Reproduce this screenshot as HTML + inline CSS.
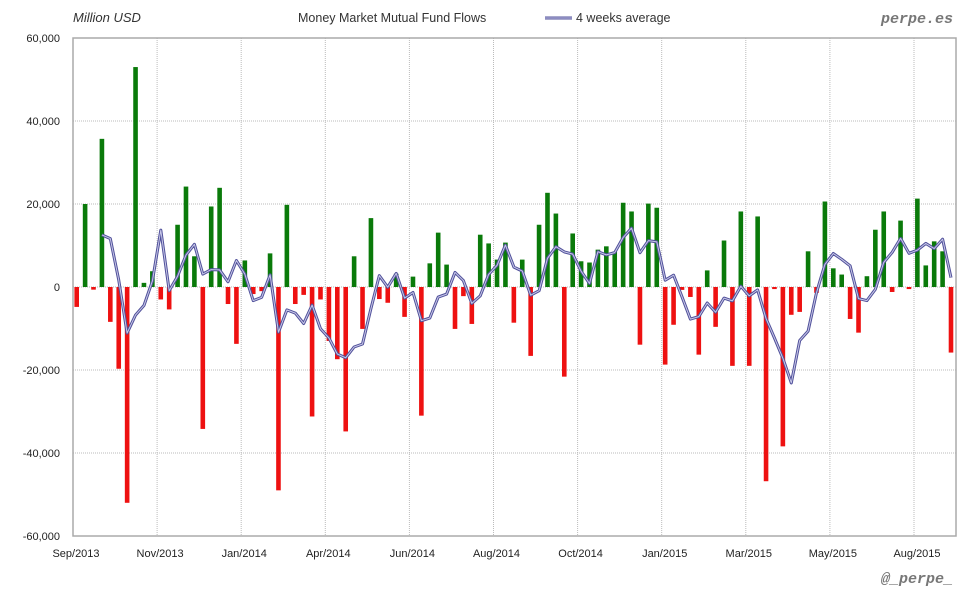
<!DOCTYPE html>
<html><head><meta charset="utf-8"><style>
body{margin:0;background:#fff;width:980px;height:600px;overflow:hidden;font-family:"Liberation Sans",sans-serif}
</style></head><body>
<svg id="chart" width="980" height="600" xmlns="http://www.w3.org/2000/svg" font-family="Liberation Sans, sans-serif">
<rect x="0" y="0" width="980" height="600" fill="#fff"/>
<text x="73" y="22" font-size="13" font-style="italic" fill="#333">Million USD</text>
<text x="298" y="22" font-size="12.5" fill="#333">Money Market Mutual Fund Flows</text>
<g>
<line x1="545" y1="18" x2="572" y2="18" stroke="#50509a" stroke-width="3"/>
<line x1="545" y1="18" x2="572" y2="18" stroke="#c8c8e8" stroke-width="1"/>
<text x="576" y="22" font-size="12.5" fill="#333">4 weeks average</text>
</g>
<text x="953" y="23" font-size="15" font-weight="bold" font-style="italic" fill="#777" text-anchor="end" font-family="Liberation Mono, monospace">perpe.es</text>
<text x="953" y="583" font-size="15" font-weight="bold" font-style="italic" fill="#777" text-anchor="end" font-family="Liberation Mono, monospace">@_perpe_</text>
<g id="grid"></g><g id="bars"></g><g id="line"></g><g id="axes"></g>
<rect x="73" y="38" width="883" height="498" fill="none" stroke="#aaa" stroke-width="1.5"/>
</svg>
<script>
const flows=[-4800,20000,-640,35700,-8400,-19700,-52000,53000,1000,3800,-3000,-5400,15000,24200,7400,-34200,19400,23900,-4100,-13700,6400,-1700,-1000,8100,-49000,19800,-4100,-1900,-31200,-3000,-13000,-17400,-34800,7400,-10100,16600,-2900,-3800,3200,-7200,2500,-31000,5700,13100,5400,-10100,-2200,-8900,12600,10500,6600,10700,-8600,6600,-16600,15000,22700,17700,-21600,12900,6200,5900,9000,9800,8500,20300,18200,-13900,20100,19100,-18700,-9100,-700,-2400,-16300,4000,-9600,11200,-19000,18200,-19000,17000,-46800,-500,-38400,-6700,-6000,8600,-1400,20600,4500,3000,-7700,-11000,2600,13800,18200,-1200,16000,-500,21300,5200,11000,8600,-15800];
const yTicks=[60000,40000,20000,0,-20000,-40000,-60000];
const xLabels=["Sep/2013","Nov/2013","Jan/2014","Apr/2014","Jun/2014","Aug/2014","Oct/2014","Jan/2015","Mar/2015","May/2015","Aug/2015"];
const NS="http://www.w3.org/2000/svg";
const L=73,R=956,T=38,B=536;
function y(v){return T+(60000-v)/120000*(B-T);}
const x0=76.7,step=(951-76.7)/104;
function x(i){return x0+i*step;}
function gx(k){return L+k*84.1;}
function mk(t,a,p){const e=document.createElementNS(NS,t);for(const k in a)e.setAttribute(k,a[k]);p.appendChild(e);return e;}
const grid=document.getElementById('grid'),axes=document.getElementById('axes'),bars=document.getElementById('bars'),line=document.getElementById('line');
yTicks.forEach(v=>{
  const g=mk('line',{x1:L,x2:R,y1:y(v),y2:y(v),stroke:'#bbb','stroke-dasharray':'1,1'},grid);
  
  
  const t=mk('text',{x:60,y:y(v)+4,'font-size':11,'text-anchor':'end',fill:'#222'},axes);
  t.textContent=v.toLocaleString('en-US');
  
  
});
xLabels.forEach((s,k)=>{
  const px=gx(k);
  if(k>0){const g=mk('line',{x1:px,x2:px,y1:T,y2:B,stroke:'#bbb','stroke-dasharray':'1,1'},grid);
  
  }
  const t=mk('text',{x:px+3,y:557,'font-size':11,'text-anchor':'middle',fill:'#222'},axes);
  t.textContent=s;
  
  
});
flows.forEach((v,i)=>{
  const r=mk('rect',{x:x(i)-2.3,width:4.6,y:Math.min(y(v),y(0)),height:Math.abs(y(v)-y(0)),fill:v>=0?'#0a7a0a':'#ee1111'},bars);
  
  
});
let pts=[];
for(let i=3;i<flows.length;i++){const a=(flows[i]+flows[i-1]+flows[i-2]+flows[i-3])/4;pts.push(x(i).toFixed(1)+','+y(a).toFixed(1));}
const p1=mk('polyline',{points:pts.join(' '),fill:'none',stroke:'#50509a','stroke-width':3,'stroke-linejoin':'round'},line);


const p2=mk('polyline',{points:pts.join(' '),fill:'none',stroke:'#c8c8e8','stroke-width':1,'stroke-linejoin':'round'},line);


</script>
</body></html>
